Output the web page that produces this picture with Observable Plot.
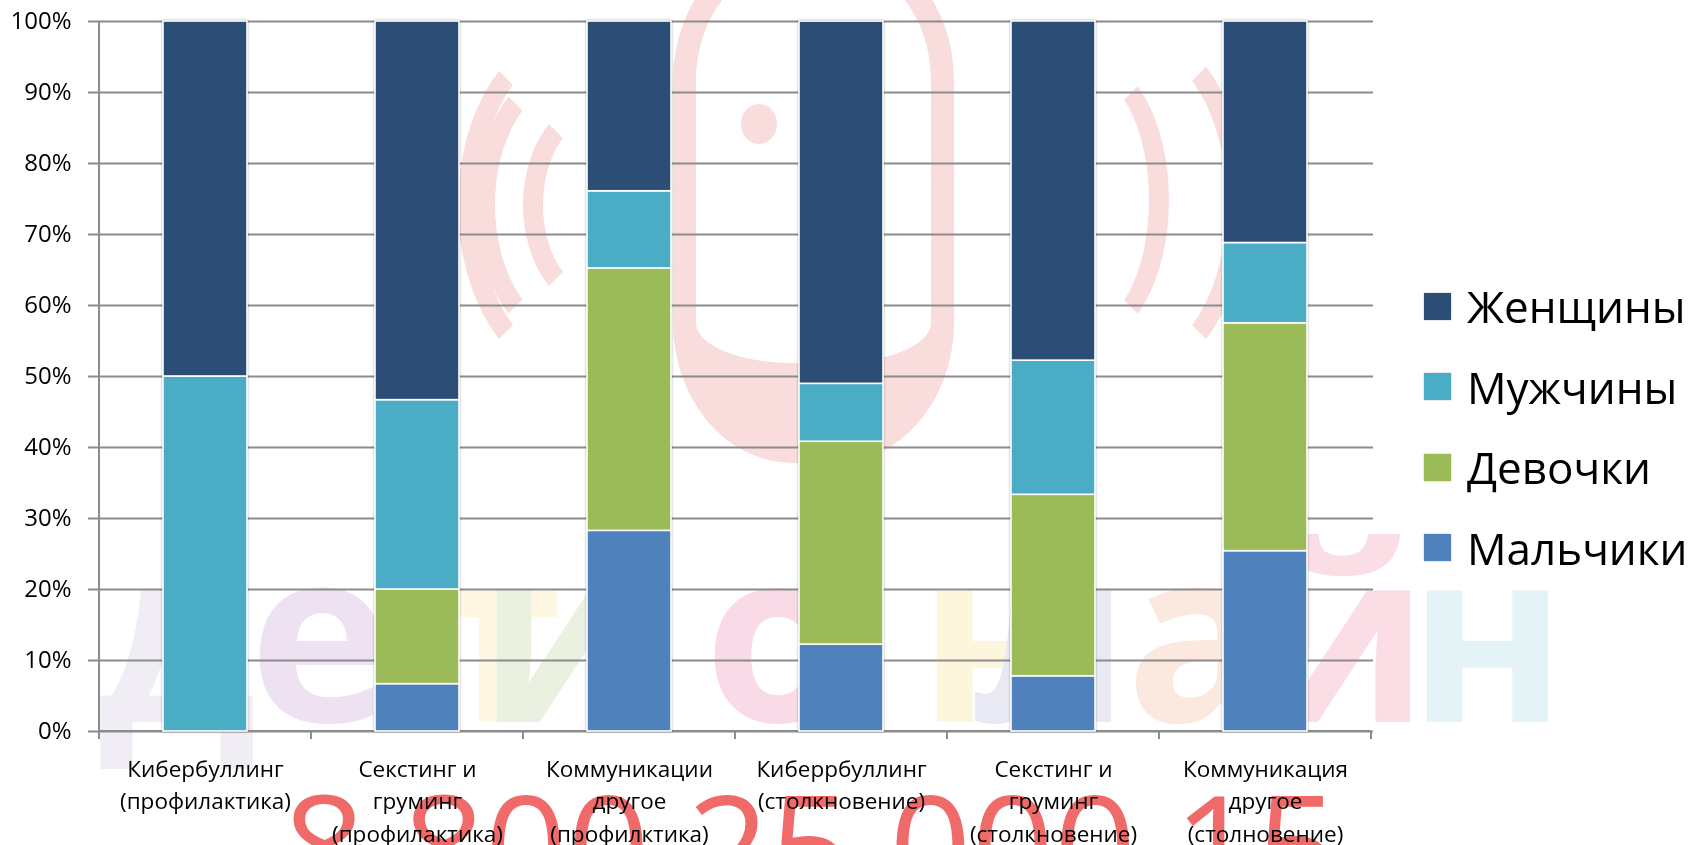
<!DOCTYPE html>
<html>
<head>
<meta charset="utf-8">
<script src="https://cdn.jsdelivr.net/npm/d3@7"></script>
<script src="https://cdn.jsdelivr.net/npm/@observablehq/plot@0.6"></script>
<style>
  body { margin: 0; background: #fff; }
  #wrap { position: relative; width: 1698px; height: 845px; overflow: hidden; font-family: "Open Sans", sans-serif; }
  #wm { position: absolute; left: 0; top: 0; width: 1698px; height: 845px; z-index: 0; pointer-events: none; }
  #wm canvas { position: absolute; left: 0; top: 0; }
  #wm .phone { position: absolute; left: 673px; top: -60px; width: 235px; height: 400px; border: 23px solid #f9dcdc; border-bottom-width: 100px; border-radius: 120px / 140px; }
  #wm .dot { position: absolute; left: 741px; top: 104px; width: 36px; height: 40px; border-radius: 50%; background: #f9dcdc; }
  #wm .arcL { position: absolute; border: 20px solid transparent; border-left-color: #f9dcdc; border-radius: 50%; }
  #wm .arcR { position: absolute; border: 20px solid transparent; border-right-color: #f9dcdc; border-radius: 50%; }
  #chart { position: absolute; left: 0; top: 0; z-index: 1; }
  #legend { position: absolute; left: 1424px; top: 266px; z-index: 2; }
  #legend .row { display: flex; align-items: center; height: 80.5px; }
  #legend .sw { width: 27px; height: 27px; margin-right: 16px; box-shadow: 0 0 1.5px rgba(0,0,0,0.35); }
  #legend .tx { font-family: "Open Sans", sans-serif; font-size: 44px; color: #000; line-height: 1; }
</style>
</head>
<body>
<div id="wrap">
  <div id="wm">
    <canvas id="wmc" width="1698" height="845"></canvas>
    <div class="phone"></div>
    <div class="dot"></div>
    <div class="arcL" style="left:523px;top:98px;width:110px;height:174px;"></div>
    <div class="arcL" style="left:475px;top:63px;width:150px;height:244px;"></div>
    <div class="arcL" style="left:458px;top:30px;width:190px;height:310px;"></div>
    <div class="arcR" style="left:960px;top:134px;width:40px;height:90px;"></div>
    <div class="arcR" style="left:1005px;top:55px;width:124px;height:250px;"></div>
    <div class="arcR" style="left:1020px;top:26px;width:187px;height:314px;"></div>
  </div>
  <div id="chart"></div>
  <div id="legend"></div>
</div>
<script>
// ---- data ----
const categories = [
  "Кибербуллинг (профилактика)",
  "Секстинг и груминг (профилактика)",
  "Коммуникации другое (профилктика)",
  "Киберрбуллинг (столкновение)",
  "Секстинг и груминг (столкновение)",
  "Коммуникация другое (столновение)"
];
const categoryLabels = [
  "Кибербуллинг\n(профилактика)",
  "Секстинг и\nгруминг\n(профилактика)",
  "Коммуникации\nдругое\n(профилктика)",
  "Киберрбуллинг\n(столкновение)",
  "Секстинг и\nгруминг\n(столкновение)",
  "Коммуникация\nдругое\n(столновение)"
];
const seriesNames = ["Мальчики", "Девочки", "Мужчины", "Женщины"]; // bottom to top
const seriesColors = ["#4F81BD", "#9BBB59", "#4BACC6", "#2C4D75"];
const boys  = [0,     6.67, 28.26, 12.24,  7.78, 25.4];
const girls = [0,    13.33, 36.96, 28.57, 25.56, 32.1];
const men   = [50,   26.67, 10.87,  8.16, 18.89, 11.3];
const women = [50,   53.33, 23.91, 51.02, 47.78, 31.2];
const yTicks = [0, 10, 20, 30, 40, 50, 60, 70, 80, 90, 100];

// ---- background watermark (decorative image, drawn on a canvas) ----
(function () {
  const ctx = document.getElementById("wmc").getContext("2d");
  const letters = [
    ["д", 97, "#f0edf4"], ["е", 249, "#eee1f1"], ["т", 430, "#fef8e3"], ["и", 478, "#eaf1e1"],
    ["о", 704, "#f8dbe6"], ["н", 918, "#fdf6dc"], ["л", 975, "#e9e9f3"], ["а", 1126, "#fbe8df"],
    ["й", 1256, "#fadde5"], ["н", 1408, "#e4f4f6"]
  ];
  ctx.font = "bold 240px 'Open Sans'";
  ctx.textBaseline = "alphabetic";
  letters.forEach(([ch, x, col]) => { ctx.fillStyle = col; ctx.fillText(ch, x, 722); });
  ctx.font = "144px 'Open Sans'";
  ctx.fillStyle = "#f06a6a";
  ctx.fillText("8 800 25 000 15", 283, 900);
})();

// ---- chart ----
const seriesValues = [boys, girls, men, women];
const data = [];
categories.forEach((c, i) => {
  seriesNames.forEach((s, j) => {
    if (seriesValues[j][i] > 0) data.push({category: c, series: s, value: seriesValues[j][i]});
  });
});
const labelOf = new Map(categories.map((c, i) => [c, categoryLabels[i]]));

const chart = Plot.plot({
  width: 1698,
  height: 845,
  marginLeft: 97,
  marginRight: 325,
  marginTop: 21,
  marginBottom: 114,
  style: {background: "transparent", fontFamily: "'Open Sans', sans-serif", color: "#000"},
  x: {domain: categories, paddingInner: 0.605, paddingOuter: 0.3025, axis: null},
  y: {domain: [0, 100], axis: null},
  color: {domain: seriesNames, range: seriesColors},
  marks: [
    Plot.gridY(yTicks, {stroke: "#8c8c8c", strokeOpacity: 1, strokeWidth: 2}),
    Plot.axisY(yTicks, {tickFormat: d => d + "%", tickSize: 9, tickPadding: 17, fontSize: 24, stroke: "#8c8c8c", strokeWidth: 2, fill: "#000", label: null}),
    Plot.barY(data, {x: "category", y: "value", fill: "series", order: seriesNames, stroke: "#fff", strokeWidth: 1.6}),
    Plot.text(categories, {x: d => d, text: d => labelOf.get(d), frameAnchor: "bottom", lineAnchor: "top", dy: 22, fontSize: 22.5, lineHeight: 1.45, fill: "#000"})
  ]
});
document.getElementById("chart").appendChild(chart);

// axis lines and category boundary ticks, placed from the plot's own scales
const xs = chart.scale("x");
const ys = chart.scale("y");
const svg = d3.select(chart);
const y0 = ys.apply(0), y100 = ys.apply(100);
const gap = (xs.step - xs.bandwidth) / 2;
const bounds = categories.map(c => xs.apply(c) - gap).concat([xs.apply(categories[categories.length - 1]) + xs.bandwidth + gap]);
const g = svg.append("g").attr("stroke", "#8c8c8c").attr("stroke-width", 2);
g.append("line").attr("x1", bounds[0]).attr("x2", bounds[0]).attr("y1", y100).attr("y2", y0);
g.append("line").attr("x1", bounds[0]).attr("x2", bounds[bounds.length - 1]).attr("y1", y0).attr("y2", y0);
bounds.forEach(b => g.append("line").attr("x1", b).attr("x2", b).attr("y1", y0).attr("y2", y0 + 8));
svg.selectAll("g[aria-label=bar]").style("filter", "drop-shadow(0 0 1.2px rgba(0,0,0,0.35))");
svg.selectAll("g[aria-label=bar]").raise();
svg.selectAll("g[aria-label=text]").raise();

// legend (top to bottom: reverse of stack order)
const legend = d3.select("#legend");
seriesNames.slice().reverse().forEach(s => {
  const row = legend.append("div").attr("class", "row");
  row.append("div").attr("class", "sw").style("background", seriesColors[seriesNames.indexOf(s)]);
  row.append("div").attr("class", "tx").text(s);
});
</script>
</body>
</html>
